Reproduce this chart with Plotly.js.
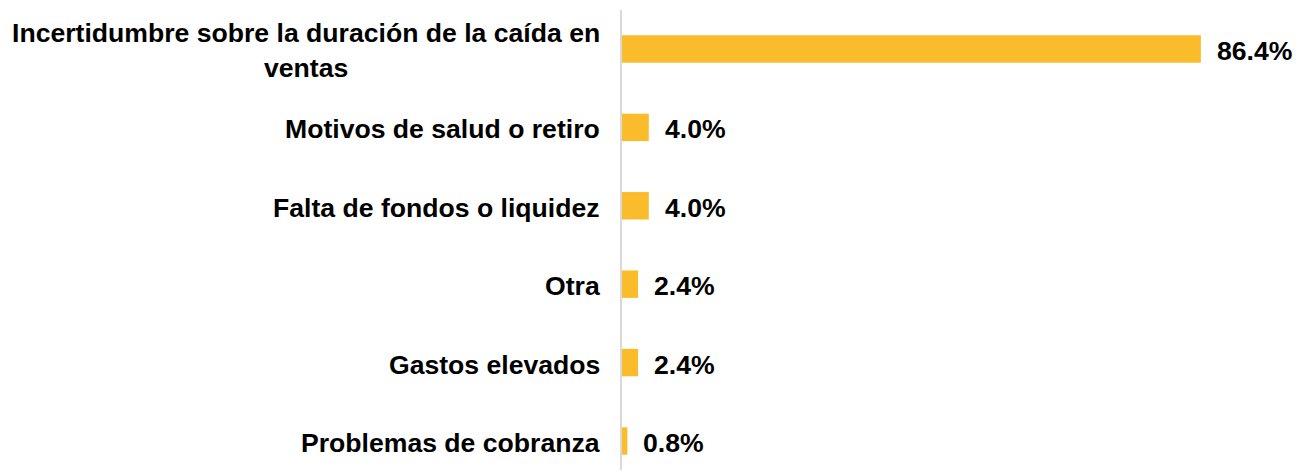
<!DOCTYPE html>
<html>
<head>
<meta charset="utf-8">
<script src="https://cdn.plot.ly/plotly-3.0.1.min.js"></script>
<style>html,body{margin:0;padding:0;background:#fff;}#chart{width:1305px;height:473px;}</style>
</head>
<body>
<div id="chart"></div>
<script>
var categories = [
  "Incertidumbre sobre la duración de la caída en<br>ventas",
  "Motivos de salud o retiro",
  "Falta de fondos o liquidez",
  "Otra",
  "Gastos elevados",
  "Problemas de cobranza"
];
var values = [86.4, 4.0, 4.0, 2.4, 2.4, 0.8];
var valueLabels = ["86.4%", "4.0%", "4.0%", "2.4%", "2.4%", "0.8%"];

var font = {family: "Liberation Sans, Arial, sans-serif", size: 26.6, color: "#000000", weight: 700};

var trace = {
  type: "bar",
  orientation: "h",
  x: values,
  y: categories,
  width: 0.35,
  marker: {color: "#FBBC2C"},
  hoverinfo: "none"
};

var annotations = [];
categories.forEach(function (c, i) {
  annotations.push({
    xref: "paper", yref: "y", x: 0, y: c,
    xanchor: "right", yanchor: "middle", xshift: -20, yshift: -2,
    text: c, showarrow: false, align: "center", font: font
  });
  annotations.push({
    xref: "x", yref: "y", x: values[i], y: c,
    xanchor: "left", yanchor: "middle", xshift: 14, yshift: -2,
    text: valueLabels[i], showarrow: false, font: font
  });
});

var layout = {
  width: 1305, height: 473,
  margin: {l: 622, r: 13, t: 10, b: 3},
  paper_bgcolor: "#ffffff", plot_bgcolor: "#ffffff",
  showlegend: false,
  xaxis: {range: [0, 100], visible: false, fixedrange: true},
  yaxis: {
    type: "category", categoryarray: categories, categoryorder: "array",
    range: [5.37, -0.497], showticklabels: false, ticks: "",
    showgrid: false, zeroline: false,
    showline: true, linecolor: "#d9d9d9", linewidth: 2
  },
  annotations: annotations
};

Plotly.newPlot("chart", [trace], layout, {displayModeBar: false, staticPlot: true});
</script>
</body>
</html>
